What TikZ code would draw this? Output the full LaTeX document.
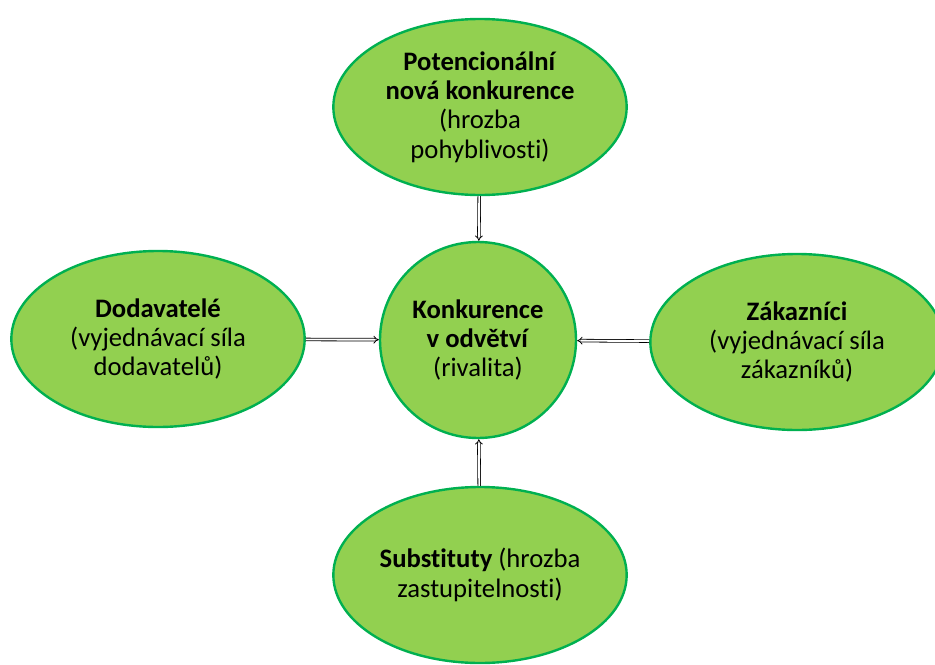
\documentclass[tikz,border=0pt]{standalone}
\usepackage{fontspec}
\setmainfont{Carlito}[Ligatures=NoCommon]
\usetikzlibrary{shapes.geometric,arrows.meta}
\definecolor{leafgreen}{HTML}{92D050}
\definecolor{rimgreen}{HTML}{00B050}
\tikzset{
  force/.style={ellipse, draw=rimgreen, fill=leafgreen, line width=1.8pt,
    minimum width=220pt, minimum height=132pt, inner sep=0pt, align=center,
    font=\fontsize{20}{22}\selectfont},
  push/.style={draw, line width=0.6pt, double, double distance=1.4pt, -{Implies}}
}
\begin{document}
\begin{tikzpicture}[x=0.75pt, y=-0.75pt]
\useasboundingbox (0,0) rectangle (935,664);
\coordinate (T) at (480,107);
\coordinate (L) at (158,339);
\coordinate (M) at (478,340);
\coordinate (R) at (797,342);
\coordinate (B) at (480,575);
\node[force] (entrants) at (T) {\textbf{Potencionální}\\\textbf{nová konkurence}\\(hrozba\\pohyblivosti)};
\node[force] (suppliers) at (L) {\textbf{Dodavatelé}\\(vyjednávací síla\\dodavatelů)};
\node[force, circle, minimum width=147pt, minimum height=147pt] (rivalry) at (M) {\textbf{Konkurence}\\\textbf{v odvětví}\\(rivalita)};
\node[force] (buyers) at (R) {\textbf{Zákazníci}\\(vyjednávací síla\\zákazníků)};
\node[force] (substitutes) at (B) {\textbf{Substituty} (hrozba\\zastupitelnosti)};
\draw[push] (entrants) -- (rivalry);
\draw[push] (suppliers) -- (rivalry);
\draw[push] (buyers) -- (rivalry);
\draw[push] (substitutes) -- (rivalry);
\end{tikzpicture}
\end{document}
